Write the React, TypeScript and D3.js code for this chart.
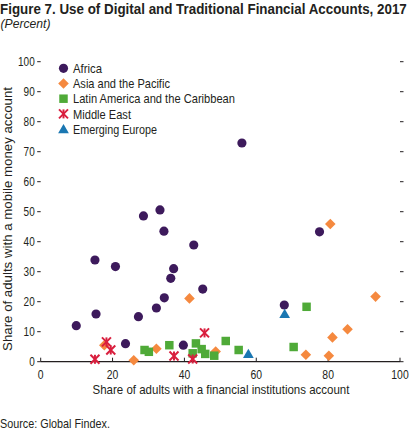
import React, { useEffect, useLayoutEffect, useRef } from 'react';
import * as d3 from 'd3';

// Share of adults with a financial institutions account (x) vs mobile money account (y)
const africa: [number, number][] = [
  [56.0, 72.9], [77.6, 43.3], [33.2, 50.6], [28.6, 48.6], [34.3, 43.5],
  [42.6, 38.9], [15.1, 33.9], [20.8, 31.7], [37.0, 31.0], [36.2, 27.8],
  [45.1, 24.2], [34.4, 21.3], [32.2, 17.9], [15.4, 15.9], [27.2, 15.0],
  [9.9, 12.0], [67.8, 18.9], [23.6, 6.0], [39.7, 5.5],
];
const asiaPacific: [number, number][] = [
  [80.6, 45.9], [93.2, 21.7], [41.4, 21.1], [85.4, 10.8], [81.2, 8.1],
  [73.8, 2.3], [80.2, 2.0], [17.7, 5.5], [25.9, 0.5], [32.2, 4.3], [48.7, 3.4],
];
const latinAmerica: [number, number][] = [
  [74.0, 18.3], [70.4, 4.9], [28.9, 3.9], [30.1, 3.3], [35.8, 5.5],
  [43.2, 6.1], [42.3, 2.8], [44.8, 4.2], [45.8, 2.6], [48.3, 2.0],
  [51.5, 6.9], [55.1, 3.9],
];
const middleEast: [number, number][] = [
  [15.1, 0.8], [18.3, 6.6], [19.5, 3.9], [37.1, 1.9], [42.3, 0.9], [45.6, 9.6],
];
const emergingEurope: [number, number][] = [
  [67.9, 15.9], [57.8, 2.6],
];

const xTicks = [0, 20, 40, 60, 80, 100];
const yTicks = [0, 10, 20, 30, 40, 50, 60, 70, 80, 90, 100];

type Shape = 'circle' | 'diamond' | 'square' | 'star' | 'triangle';

const series: { name: string; data: [number, number][]; shape: Shape; color: string; w: number }[] = [
  { name: 'Africa', data: africa, shape: 'circle', color: '#3d1a5c', w: 29 },
  { name: 'Asia and the Pacific', data: asiaPacific, shape: 'diamond', color: '#f5893f', w: 97 },
  { name: 'Latin America and the Caribbean', data: latinAmerica, shape: 'square', color: '#4faa38', w: 162 },
  { name: 'Middle East', data: middleEast, shape: 'star', color: '#d91f3e', w: 58 },
  { name: 'Emerging Europe', data: emergingEurope, shape: 'triangle', color: '#1a77b2', w: 84 },
];

const W = 412;
const H = 431;
const FONT = "'Liberation Sans', Arial, sans-serif";
const INK = '#231f20';
const CONDENSE = 0.8;

const x = d3.scaleLinear().domain([0, 100]).range([40.7, 400]);
const y = d3.scaleLinear().domain([0, 100]).range([361.7, 61.7]);

const circlePath = d3.symbol(d3.symbolCircle, 66)() as string;
const squarePath = d3.symbol(d3.symbolSquare, 72)() as string;
const diamondPath = d3.symbol(d3.symbolSquare, 56)() as string;
const trianglePath = d3.symbol(d3.symbolTriangle, 50)() as string;

// Text squeezed horizontally to mimic the narrow typeface of the original;
// with `width` it is fitted to that many pixels, otherwise a fixed factor is used.
function Txt({
  x: tx, y: ty, width, anchor = 'start', rotate = 0, children, ...rest
}: {
  x: number; y: number; width?: number; anchor?: 'start' | 'middle' | 'end'; rotate?: number;
  children: React.ReactNode; [k: string]: any;
}) {
  const g = useRef<SVGGElement>(null);
  const t = useRef<SVGTextElement>(null);
  useLayoutEffect(() => {
    if (!g.current || !t.current) return;
    let s = CONDENSE;
    if (width) {
      const len = t.current.getComputedTextLength();
      if (len > 0) s = width / len;
    }
    g.current.setAttribute('transform', `translate(${tx},${ty}) rotate(${rotate}) scale(${s},1)`);
  });
  return (
    <g ref={g} transform={`translate(${tx},${ty}) rotate(${rotate}) scale(${CONDENSE},1)`}>
      <text ref={t} x={0} y={0} textAnchor={anchor} fill={INK} {...rest}>{children}</text>
    </g>
  );
}

function Marker({ shape, color, cx, cy }: { shape: Shape; color: string; cx: number; cy: number }) {
  const t = `translate(${cx},${cy})`;
  if (shape === 'circle') return <path d={circlePath} transform={t} fill={color} />;
  if (shape === 'square') return <path d={squarePath} transform={t} fill={color} />;
  if (shape === 'diamond') return <path d={diamondPath} transform={`${t} rotate(45)`} fill={color} />;
  if (shape === 'triangle') return <path d={trianglePath} transform={`${t} translate(0,1)`} fill={color} />;
  const r = 4.5;
  return (
    <g transform={t} stroke={color} strokeWidth={2} strokeLinecap="butt">
      <line x1={-r} y1={-r} x2={r} y2={r} />
      <line x1={-r} y1={r} x2={r} y2={-r} />
      <line x1={0} y1={-r} x2={0} y2={r} />
    </g>
  );
}

export default function App() {
  useEffect(() => {
    document.body.style.margin = '0';
  }, []);

  const [x0, x1] = x.range();
  const y0 = y(0);

  return (
    <svg width={W} height={H} style={{ display: 'block', background: '#fff' }} fontFamily={FONT}>
      <Txt x={0} y={14} width={407} fontSize={15} fontWeight="bold">
        Figure 7. Use of Digital and Traditional Financial Accounts, 2017
      </Txt>
      <Txt x={0.5} y={28} width={50} fontSize={13} fontStyle="italic">(Percent)</Txt>

      {/* left ticks and labels */}
      {yTicks.map((t) => (
        <g key={`yl${t}`}>
          <line x1={x0 - 3.5} x2={x0} y1={y(t)} y2={y(t)} stroke={INK} strokeWidth={1} />
          <Txt x={x0 - 6} y={y(t) + 4.5} anchor="end" fontSize={12.5}>{t}</Txt>
        </g>
      ))}
      {/* right ticks */}
      {yTicks.map((t) => (
        <line key={`yr${t}`} x1={x1} x2={x1 + 3.5} y1={y(t)} y2={y(t)} stroke={INK} strokeWidth={1} />
      ))}

      {/* x axis */}
      <line x1={x0} x2={x1} y1={y0} y2={y0} stroke={INK} strokeWidth={1.2} />
      {xTicks.map((t) => (
        <g key={`x${t}`}>
          <line x1={x(t)} x2={x(t)} y1={y0} y2={y0 - 4} stroke={INK} strokeWidth={1} />
          <Txt x={x(t)} y={y0 + 17} anchor="middle" fontSize={13}>{t}</Txt>
        </g>
      ))}
      <Txt x={221} y={394} width={257} anchor="middle" fontSize={13}>
        Share of adults with a financial institutions account
      </Txt>
      <Txt x={12} y={219} width={264} rotate={-90} anchor="middle" fontSize={13}>
        Share of adults with a mobile money account
      </Txt>

      {/* points */}
      {series.map((s) => (
        <g key={s.name}>
          {s.data.map((d, i) => (
            <Marker key={i} shape={s.shape} color={s.color} cx={x(d[0])} cy={y(d[1])} />
          ))}
        </g>
      ))}

      {/* legend */}
      {series.map((s, i) => {
        const ly = 68.3 + i * 15.2;
        return (
          <g key={`lg${s.name}`}>
            <Marker shape={s.shape} color={s.color} cx={63.5} cy={ly} />
            <Txt x={73} y={ly + 4.7} width={s.w} fontSize={13}>{s.name}</Txt>
          </g>
        );
      })}

      <Txt x={0} y={428} width={110} fontSize={12}>Source: Global Findex.</Txt>
    </svg>
  );
}
